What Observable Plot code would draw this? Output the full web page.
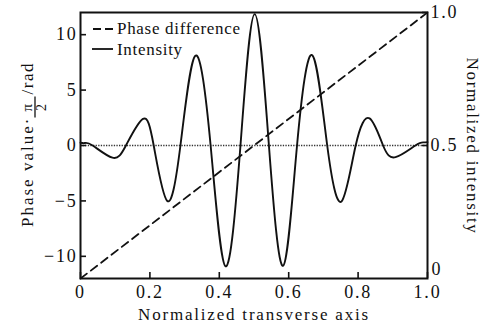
<!DOCTYPE html>
<html><head><meta charset="utf-8">
<script src="https://cdn.jsdelivr.net/npm/d3@7"></script>
<script src="https://cdn.jsdelivr.net/npm/@observablehq/plot@0.6"></script>
<style>
body{margin:0;background:#fff}
#chart{width:483px;height:327px}
</style>
</head><body><div id="chart"></div>
<script>
// ---- data ----
const phaseX = [0, 1];
const phaseY = [-12, 12];
const intensityX = [0, 0.012, 0.035, 0.092, 0.131, 0.180, 0.211, 0.250, 0.288, 0.331, 0.375, 0.418, 0.461, 0.502, 0.543, 0.584, 0.624, 0.668, 0.711, 0.752, 0.793, 0.833, 0.872, 0.908, 0.965, 0.988, 1];
const intensityY = [0.25, 0.22, 0, -1.1, 0, 2.4, 0, -5.0, 0, 8.1, 0, -10.9, 0, 11.85, 0, -10.85, 0, 8.15, 0, -5.05, 0, 2.45, 0, -1.05, 0, 0.28, 0.3];
const zeroLine = [0];
const xTicks = [0, 0.2, 0.4, 0.6, 0.8, 1.0];
const xTickLabels = ["0", "0.2", "0.4", "0.6", "0.8", "1.0"];
const leftTicks = [-10, -5, 0, 5, 10];
const leftTickLabels = ["\u221210", "\u22125", "0", "5", "10"];
const rightTicksTop = [0, 12];
const rightTicksTopLabels = ["0.5", "1.0"];
const rightTicksBottom = [-12];
const rightTicksBottomLabels = ["0"];
const legendLabels = ["Phase difference", "Intensity"];
const xTitle = "Normalized transverse axis";
const rightTitle = "Normalized intensity";
const leftTitleMain = "Phase value\u00b7";
const leftTitleNum = "\u03c0";
const leftTitleDen = "2";
const leftTitleUnit = "/rad";

const phase = phaseX.map((x, i) => ({x, y: phaseY[i]}));
const intensity = intensityX.map((x, i) => ({x, y: intensityY[i]}));
const lookup = (vals, labels) => d => labels[vals.indexOf(d)];

const FONT = "'Liberation Serif','Times New Roman',Times,serif";
const INK = "#111";

const plot = Plot.plot({
  width: 483, height: 327,
  marginLeft: 80, marginRight: 56, marginTop: 12, marginBottom: 49,
  x: {domain: [0, 1]},
  y: {domain: [-12, 12]},
  style: {fontFamily: FONT, fontSize: "18px", color: INK, background: "#fff", letterSpacing: "1.8px"},
  marks: [
    Plot.ruleY(zeroLine, {stroke: "#333", strokeWidth: 1.6, strokeDasharray: "1.3,1.3"}),
    Plot.line(phase, {x: "x", y: "y", stroke: INK, strokeWidth: 1.8, strokeDasharray: "8,5"}),
    Plot.line(intensity, {x: "x", y: "y", curve: "natural", stroke: INK, strokeWidth: 1.9}),
    Plot.frame({stroke: INK, strokeWidth: 2}),
    Plot.axisX(xTicks, {tickSize: -6, tickPadding: 13, strokeWidth: 1.6, tickFormat: lookup(xTicks, xTickLabels), label: null}),
    Plot.axisY(leftTicks, {anchor: "left", tickSize: -6, tickPadding: 9, strokeWidth: 1.6, tickFormat: lookup(leftTicks, leftTickLabels), label: null}),
    Plot.axisY(rightTicksTop, {anchor: "right", tickSize: -6, tickPadding: 9, strokeWidth: 1.6, tickFormat: lookup(rightTicksTop, rightTicksTopLabels), label: null}),
    Plot.axisY(rightTicksBottom, {anchor: "right", tickSize: 0, tickPadding: 4, dy: -9, tickFormat: lookup(rightTicksBottom, rightTicksBottomLabels), label: null}),
    Plot.text([xTitle], {text: d => d, frameAnchor: "bottom", dy: 36, lineAnchor: "middle", fontSize: 17})
  ]
});
document.getElementById("chart").appendChild(plot);

const svg = d3.select(plot);
// left title with stacked fraction
const g = svg.append("g")
  .attr("transform", "translate(33,227) rotate(-90)")
  .attr("fill", INK)
  .attr("text-anchor", "start")
  .style("font-family", FONT);
const main = g.append("text").attr("x", 0).attr("y", 0).attr("text-anchor", "start").style("font-size", "17px").style("letter-spacing", "2px").text(leftTitleMain);
const w = main.node().getComputedTextLength() - 2;
g.append("text").attr("x", w + 11).attr("y", -1).attr("text-anchor", "middle").style("font-size", "15px").style("letter-spacing", "0px").text(leftTitleNum);
g.append("line").attr("x1", w + 1).attr("x2", w + 22).attr("y1", 2).attr("y2", 2).attr("stroke", INK).attr("stroke-width", 1.3);
g.append("text").attr("x", w + 11).attr("y", 13).attr("text-anchor", "middle").style("font-size", "14px").style("letter-spacing", "0px").text(leftTitleDen);
g.append("text").attr("x", w + 24).attr("y", 0).attr("text-anchor", "start").style("font-size", "17px").style("letter-spacing", "1.6px").text(leftTitleUnit);

// right title
svg.append("text")
  .attr("transform", "translate(467,146) rotate(90)")
  .attr("text-anchor", "middle")
  .attr("fill", INK)
  .style("font-family", FONT).style("font-size", "17px").style("letter-spacing", "1.7px")
  .text(rightTitle);

// legend
const lg = svg.append("g").attr("text-anchor", "start").style("font-family", FONT).style("font-size", "17px").style("letter-spacing", "0.7px").attr("fill", INK);
lg.append("line").attr("x1", 93).attr("x2", 113).attr("y1", 29).attr("y2", 29).attr("stroke", INK).attr("stroke-width", 1.8).attr("stroke-dasharray", "8,4");
lg.append("text").attr("x", 117).attr("y", 34).attr("text-anchor", "start").text(legendLabels[0]);
lg.append("line").attr("x1", 92).attr("x2", 113).attr("y1", 49).attr("y2", 49).attr("stroke", INK).attr("stroke-width", 1.8);
lg.append("text").attr("x", 117).attr("y", 55).attr("text-anchor", "start").text(legendLabels[1]);
</script>
</body></html>
